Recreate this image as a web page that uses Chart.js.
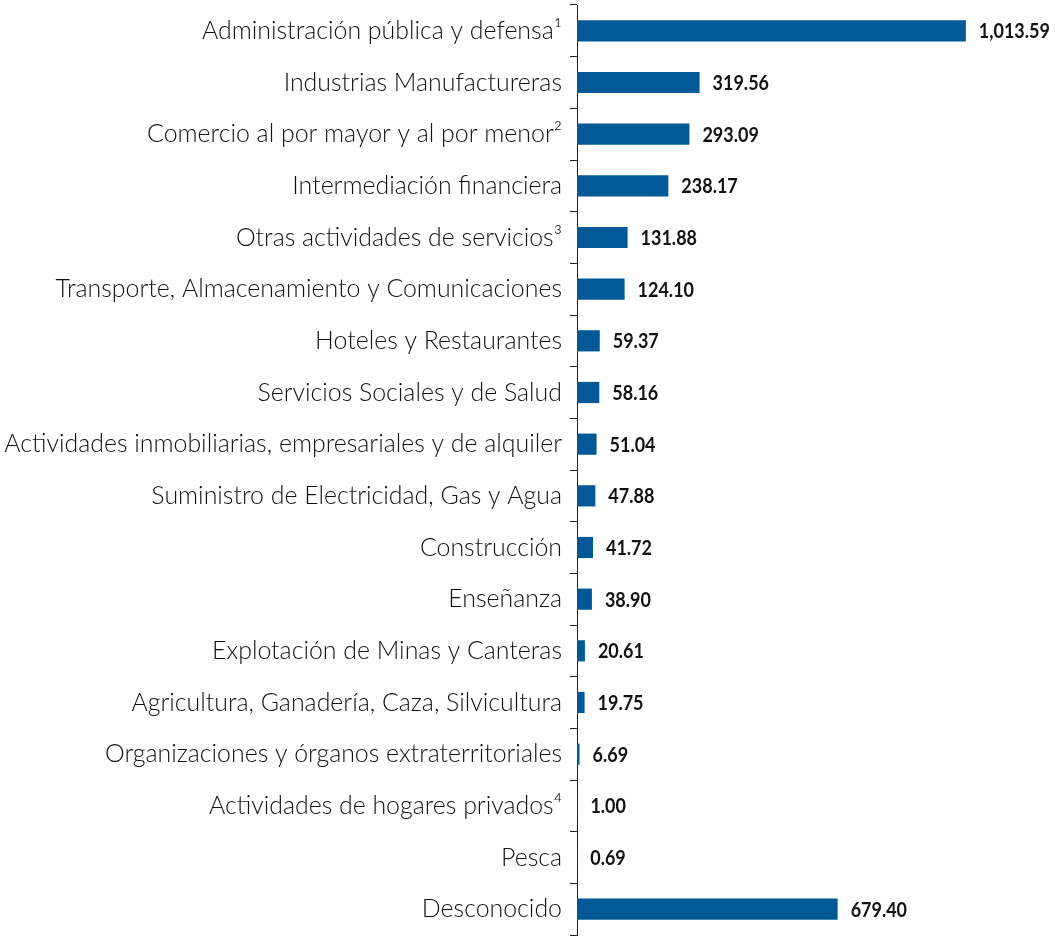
<!DOCTYPE html>
<html>
<head>
<meta charset="utf-8">
<script src="https://cdn.jsdelivr.net/npm/chart.js@4/dist/chart.umd.min.js"></script>
<style>
html,body{margin:0;padding:0;background:#fff;}
#wrap{width:1055px;height:947px;}
</style>
</head>
<body>
<div id="wrap"><canvas id="c" width="1055" height="947"></canvas></div>
<script>
const categories = [
  "Administración pública y defensa¹",
  "Industrias Manufactureras",
  "Comercio al por mayor y al por menor²",
  "Intermediación financiera",
  "Otras actividades de servicios³",
  "Transporte, Almacenamiento y Comunicaciones",
  "Hoteles y Restaurantes",
  "Servicios Sociales y de Salud",
  "Actividades inmobiliarias, empresariales y de alquiler",
  "Suministro de Electricidad, Gas y Agua",
  "Construcción",
  "Enseñanza",
  "Explotación de Minas y Canteras",
  "Agricultura, Ganadería, Caza, Silvicultura",
  "Organizaciones y órganos extraterritoriales",
  "Actividades de hogares privados⁴",
  "Pesca",
  "Desconocido"
];
const values = [1013.59, 319.56, 293.09, 238.17, 131.88, 124.10, 59.37, 58.16, 51.04, 47.88, 41.72, 38.90, 20.61, 19.75, 6.69, 1.00, 0.69, 679.40];
const valueLabels = ["1,013.59","319.56","293.09","238.17","131.88","124.10","59.37","58.16","51.04","47.88","41.72","38.90","20.61","19.75","6.69","1.00","0.69","679.40"];

const FAMILY = "Lato, 'Liberation Sans', sans-serif";
const mctx = document.createElement('canvas').getContext('2d');
function fitSize(text, weight, family, target){
  mctx.font = weight + " 100px " + family;
  const w = mctx.measureText(text).width;
  return Math.round(100 * target / w * 10) / 10;
}
const labelSize = fitSize("Actividades inmobiliarias, empresariales y de alquiler", "300", FAMILY, 557);
const valueSize = 20.5;
mctx.font = "bold " + valueSize + "px " + FAMILY;
const valueScaleX = Math.min(1, 71 / mctx.measureText("1,013.59").width);

const valuePlugin = {
  id: 'valueLabels',
  afterDatasetsDraw(chart){
    const ctx = chart.ctx;
    const meta = chart.getDatasetMeta(0);
    ctx.save();
    ctx.font = "bold " + valueSize + "px " + FAMILY;
    ctx.fillStyle = "#111";
    ctx.textAlign = "left";
    ctx.textBaseline = "middle";
    meta.data.forEach((bar, i) => {
      ctx.save();
      ctx.translate(bar.x + 13, bar.y + 1);
      ctx.scale(valueScaleX, 1);
      ctx.fillText(valueLabels[i], 0, 0);
      ctx.restore();
    });
    ctx.restore();
  }
};

new Chart(document.getElementById('c'), {
  type: 'bar',
  data: {
    labels: categories,
    datasets: [{
      data: values,
      backgroundColor: '#005996',
      borderWidth: 0,
      categoryPercentage: 1,
      barPercentage: 0.41
    }]
  },
  options: {
    indexAxis: 'y',
    responsive: false,
    animation: false,
    layout: { padding: { top: 5, bottom: 12, left: 0, right: 56 } },
    plugins: { legend: { display: false }, tooltip: { enabled: false } },
    scales: {
      x: { display: false, min: 0, max: 1100 },
      y: {
        afterFit(scale){ scale.width = 577; scale.paddingTop = 0; scale.paddingBottom = 0; },
        border: { display: true, color: '#222', width: 1 },
        grid: { drawOnChartArea: false, drawTicks: true, tickLength: 7, color: '#222', lineWidth: 1, offset: true },
        ticks: { color: '#111', padding: 8, font: { family: FAMILY, size: labelSize, weight: '300' } }
      }
    }
  },
  plugins: [valuePlugin]
});
</script>
</body>
</html>
